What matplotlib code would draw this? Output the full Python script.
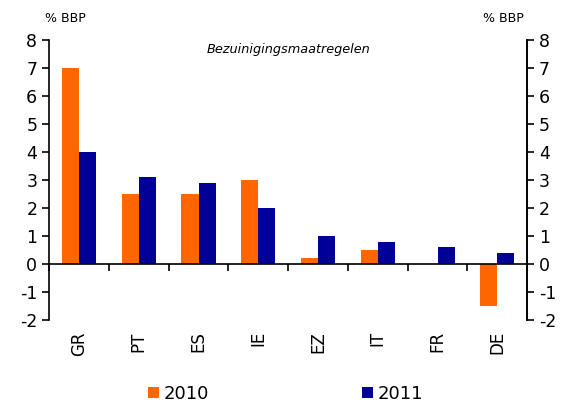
import matplotlib.pyplot as plt
import matplotlib.transforms as mtransforms
import numpy as np

plt.rcParams["axes.unicode_minus"] = False

countries = ["GR", "PT", "ES", "IE", "EZ", "IT", "FR", "DE"]
vals_2010 = [7.0, 2.5, 2.5, 3.0, 0.2, 0.5, 0.0, -1.5]
vals_2011 = [4.0, 3.1, 2.9, 2.0, 1.0, 0.8, 0.6, 0.4]
yticks = [-2, -1, 0, 1, 2, 3, 4, 5, 6, 7, 8]

orange = "#FF6600"
blue = "#000099"

fig = plt.figure(figsize=(5.65, 4.05), dpi=100)
ax = fig.add_axes([0.087, 0.21, 0.846, 0.691])

x = np.arange(len(countries))
w = 0.285
ax.bar(x - w / 2, vals_2010, w, color=orange, label="2010")
ax.bar(x + w / 2, vals_2011, w, color=blue, label="2011")

ax.set_xlim(-0.5, len(countries) - 0.5)
ax.set_ylim(-2, 8)
ax.set_yticks(yticks)
ax.tick_params(axis="y", labelsize=12.5, length=5, width=1.2, direction="out")

# zero line with ticks at category boundaries
ax.spines["bottom"].set_position(("data", 0))
ax.spines["top"].set_visible(False)
for s in ["left", "right", "bottom"]:
    ax.spines[s].set_linewidth(1.2)
ax.set_xticks(np.arange(len(countries) + 1) - 0.5)
ax.set_xticklabels([])
ax.tick_params(axis="x", length=5, width=1.2, direction="out")

trans = mtransforms.blended_transform_factory(ax.transData, ax.transAxes)
for i, c in enumerate(countries):
    ax.text(i, -0.04, c, rotation=90, ha="center", va="top", fontsize=12, transform=trans)

ax2 = ax.twinx()
ax2.set_ylim(-2, 8)
ax2.set_yticks(yticks)
ax2.tick_params(axis="y", labelsize=12.5, length=5, width=1.2, direction="out")
for s in ["top", "bottom", "left"]:
    ax2.spines[s].set_visible(False)
ax2.spines["right"].set_linewidth(1.2)

fig.text(0.08, 0.945, "% BBP", fontsize=9)
fig.text(0.927, 0.945, "% BBP", fontsize=9, ha="right")
ax.text(0.5, 0.968, "Bezuinigingsmaatregelen", transform=ax.transAxes,
        ha="center", va="center", fontsize=9.3, style="italic")

fig.legend(loc="lower center", bbox_to_anchor=(0.505, -0.035), ncol=2, frameon=False,
           fontsize=13, handlelength=0.6, handleheight=0.6, handletextpad=0.25,
           columnspacing=8.5)

fig.savefig("out.png", dpi=100)
